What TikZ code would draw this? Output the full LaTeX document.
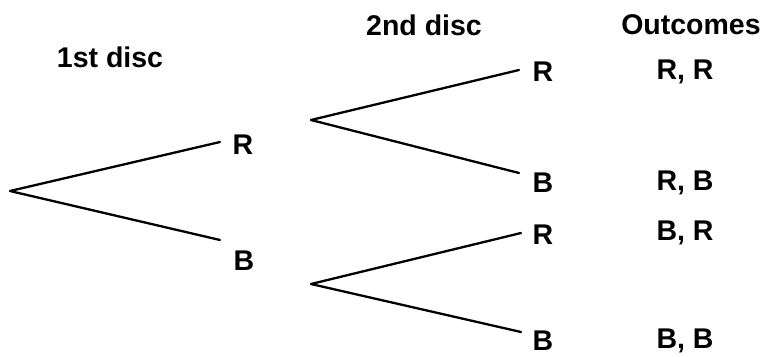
\documentclass[tikz,border=0pt]{standalone}
\usepackage{fontspec}
\setmainfont{Liberation Sans}
\begin{document}
\begin{tikzpicture}[x=1pt,y=-1pt,
  lbl/.style={font=\fontsize{28.5}{31}\selectfont\bfseries, inner sep=0pt, anchor=center},
  branch/.style={line width=2.3pt, line cap=round, line join=round}]
\useasboundingbox (0,0) rectangle (762,356);
% headers
\node[lbl] (h1) at (110,57) {1st disc};
\node[lbl] (h2) at (424,25) {2nd disc};
\node[lbl] (h3) at (691,25) {Outcomes};
% branch points
\coordinate (root) at (10,191);
\coordinate (r1e) at (220,142);
\coordinate (b1e) at (220,240);
\coordinate (rA) at (311,120);
\coordinate (rAr) at (519,70);
\coordinate (rAb) at (519,173);
\coordinate (bA) at (311,284);
\coordinate (bAr) at (521,233);
\coordinate (bAb) at (521,332);
% labels
\node[lbl] (R1) at (243,145) {R};
\node[lbl] (B1) at (244,261) {B};
\node[lbl] (RR2) at (543,72) {R};
\node[lbl] (RB2) at (543,183) {B};
\node[lbl] (BR2) at (543,235) {R};
\node[lbl] (BB2) at (543,341) {B};
\node[lbl] (o1) at (685,72) {R, R};
\node[lbl] (o2) at (685,183) {R, B};
\node[lbl] (o3) at (685,233) {B, R};
\node[lbl] (o4) at (685,341) {B, B};
% branches
\draw[branch] (r1e) -- (root) -- (b1e);
\draw[branch] (rAr) -- (rA) -- (rAb);
\draw[branch] (bAr) -- (bA) -- (bAb);
\end{tikzpicture}
\end{document}
